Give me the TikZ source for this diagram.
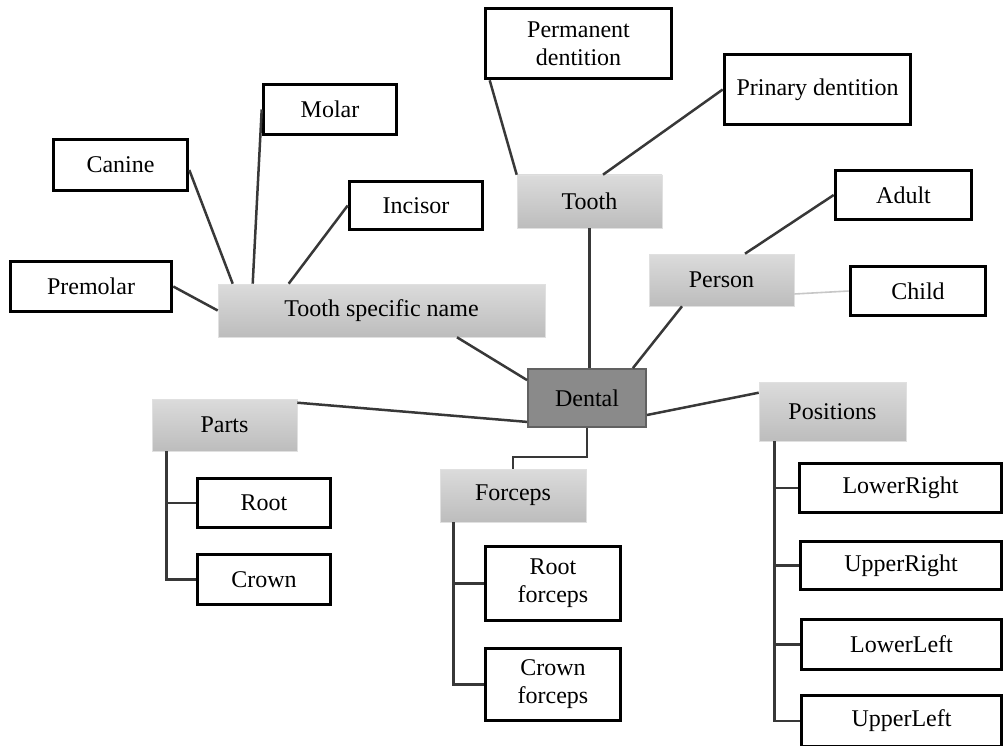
\documentclass[tikz,border=0pt]{standalone}
\usepackage{fontspec}
\setmainfont{Liberation Serif}
\usepackage{tikz}
\usetikzlibrary{positioning,calc}

\tikzset{
  leafbox/.style={draw=black, line width=3.6pt, fill=white, inner sep=2pt, align=center},
  catbox/.style={top color=black!14, bottom color=black!26, draw=black!12, line width=0.6pt, inner sep=2pt},
  rootbox/.style={fill=black!46, draw=black!62, line width=1.8pt, inner sep=2pt},
  link/.style={line width=2.5pt, draw=black!78},
  every node/.style={font=\fontsize{24}{28}\selectfont}
}

\begin{document}
\begin{tikzpicture}[x=1pt, y=-1pt]
        \useasboundingbox (0,0) rectangle (1004,746);

        % Centre
        \node[rootbox, minimum width=118pt, minimum height=58pt] (dental) at (587,398) {Dental};

        % Tooth specific name
        \node[catbox, minimum width=327pt, minimum height=53pt] (tsn) at (381.5,310.5) {Tooth specific name};
        \node[leafbox, minimum width=134pt, minimum height=51pt] (canine) at (120.5,165) {Canine};
        \node[leafbox, minimum width=133pt, minimum height=50pt] (molar) at (330,109.5) {Molar};
        \node[leafbox, minimum width=133pt, minimum height=48pt] (incisor) at (416,205.5) {Incisor};
        \node[leafbox, minimum width=161pt, minimum height=50pt] (premolar) at (91,286.5) {Premolar};

        % Tooth
        \node[catbox, minimum width=145pt, minimum height=53pt] (tooth) at (589.5,201.5) {Tooth};
        \node[leafbox, minimum width=186pt, minimum height=70pt] (permanent) at (578.5,43.5) {Permanent\\dentition};
        \node[leafbox, minimum width=186pt, minimum height=70pt] (primary) at (817.5,89.5) {Prinary dentition};

        % Person
        \node[catbox, minimum width=145pt, minimum height=52pt] (person) at (721.5,280) {Person};
        \node[leafbox, minimum width=136pt, minimum height=49pt] (adult) at (903.5,195) {Adult};
        \node[leafbox, minimum width=135pt, minimum height=49pt] (child) at (918,291) {Child};

        % Parts
        \node[catbox, minimum width=145pt, minimum height=52pt] (parts) at (224.5,425) {Parts};
        \node[leafbox, minimum width=133pt, minimum height=49pt] (root) at (264,503) {Root};
        \node[leafbox, minimum width=133pt, minimum height=50pt] (crown) at (264,579.5) {Crown};

        % Forceps
        \node[catbox, minimum width=146pt, minimum height=53pt] (forceps) at (513,495.5) {Forceps};
        \node[leafbox, minimum width=135pt, minimum height=74pt] (rootf) at (553,583.5) {Root\\forceps};
        \node[leafbox, minimum width=135pt, minimum height=72pt] (crownf) at (553,684.5) {Crown\\forceps};

        % Positions
        \node[catbox, minimum width=147pt, minimum height=59pt] (positions) at (832.5,411.5) {Positions};
        \node[leafbox, minimum width=202pt, minimum height=49pt] (lowerright) at (900.5,488) {LowerRight};
        \node[leafbox, minimum width=201pt, minimum height=48pt] (upperright) at (901,565.5) {UpperRight};
        \node[leafbox, minimum width=200pt, minimum height=50pt] (lowerleft) at (901.5,644.5) {LowerLeft};
        \node[leafbox, minimum width=200pt, minimum height=51pt] (upperleft) at (901.5,721) {UpperLeft};

        % Links to the tooth specific name
        \draw[link] ([yshift=-5pt]canine.east) -- ([xshift=15pt]tsn.north west);
        \draw[link] (molar.west) -- ([xshift=35pt]tsn.north west);
        \draw[link] (incisor.west) -- ([xshift=71pt]tsn.north west);
        \draw[link] (premolar.east) -- (tsn.west);

        % Links to tooth and person
        \draw[link] ([xshift=6pt]permanent.south west) -- (tooth.north west);
        \draw[link] (primary.west) -- ([xshift=13.5pt]tooth.north);
        \draw[link] (adult.west) -- ([xshift=23.5pt]person.north);
        \draw[line width=1.6pt, black!22] ([yshift=-14pt]person.east) -- (child.west);

        % Links to dental
        \draw[link] ([xshift=75.5pt]tsn.south) -- ([yshift=-12pt]dental.north west);
        \draw[link] (tooth.south) -- (tooth.south |- dental.north);
        \draw[link] ([xshift=-39.5pt]person.south) -- ([xshift=-14pt]dental.north east);
        \draw[link] ([yshift=-4pt]parts.north east) -- ([yshift=6pt]dental.south west);
        \draw[link] ([yshift=-17pt]dental.east) -- ([yshift=-11pt]positions.north west);
        \draw[link] (dental.south) -- ++(0,29) -| (forceps.north);

        % Trees below the categories
        \draw[link] ([xshift=15pt]parts.south west) |- (root.west);
        \draw[link] ([xshift=15pt]parts.south west) |- (crown.west);
        \draw[link] ([xshift=14pt]forceps.south west) |- (rootf.west);
        \draw[link] ([xshift=14pt]forceps.south west) |- (crownf.west);
        \foreach \p in {lowerright,upperright,lowerleft,upperleft}
          \draw[link] ([xshift=16pt]positions.south west) |- (\p.west);
\end{tikzpicture}
\end{document}
